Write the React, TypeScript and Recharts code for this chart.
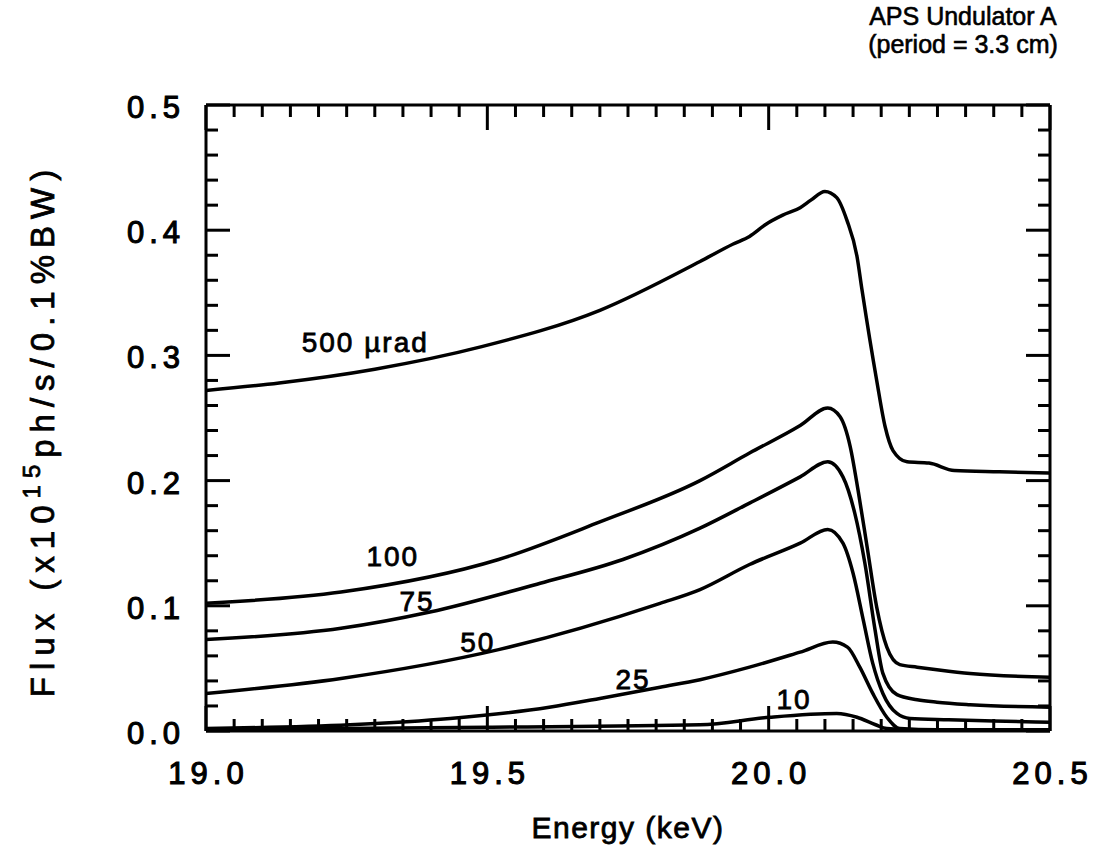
import React from "react";
import { LineChart, Line, XAxis, YAxis, ReferenceDot, ReferenceLine } from "recharts";

const W = 1099;
const H = 853;
const PLOT = { left: 206, top: 105, right: 1050, bottom: 731 };
const FONT = '"Liberation Sans", Arial, Helvetica, sans-serif';

// tick values (minor every 0.05 keV / 0.02 flux units, labels on majors)
const energyTicks = Array.from({ length: 31 }, (_, i) => +(19 + i * 0.05).toFixed(2));
const fluxTicks = Array.from({ length: 26 }, (_, i) => +(i * 0.02).toFixed(2));

// flux curves for each aperture (energy keV, flux x1e15)
const flux500 = [
  { e: 19.0, f: 0.272 }, { e: 19.13, f: 0.278 }, { e: 19.3, f: 0.289 }, { e: 19.49, f: 0.307 },
  { e: 19.7, f: 0.336 }, { e: 19.878, f: 0.375 }, { e: 19.937, f: 0.389 }, { e: 19.966, f: 0.395 },
  { e: 19.996, f: 0.405 }, { e: 20.025, f: 0.412 }, { e: 20.056, f: 0.418 }, { e: 20.075, f: 0.424 },
  { e: 20.1, f: 0.431 }, { e: 20.121, f: 0.426 }, { e: 20.139, f: 0.408 }, { e: 20.157, f: 0.379 },
  { e: 20.166, f: 0.352 }, { e: 20.192, f: 0.28 }, { e: 20.207, f: 0.243 }, { e: 20.221, f: 0.224 },
  { e: 20.246, f: 0.215 }, { e: 20.285, f: 0.214 }, { e: 20.33, f: 0.208 }, { e: 20.41, f: 0.207 },
  { e: 20.5, f: 0.206 },
];
const flux100 = [
  { e: 19.0, f: 0.102 }, { e: 19.24, f: 0.111 }, { e: 19.52, f: 0.137 }, { e: 19.7, f: 0.167 },
  { e: 19.878, f: 0.2 }, { e: 19.966, f: 0.222 }, { e: 20.056, f: 0.244 }, { e: 20.105, f: 0.258 },
  { e: 20.127, f: 0.251 }, { e: 20.145, f: 0.227 }, { e: 20.159, f: 0.192 }, { e: 20.175, f: 0.147 },
  { e: 20.192, f: 0.099 }, { e: 20.21, f: 0.067 }, { e: 20.233, f: 0.053 }, { e: 20.264, f: 0.051 },
  { e: 20.299, f: 0.049 }, { e: 20.358, f: 0.046 }, { e: 20.5, f: 0.043 },
];
const flux75 = [
  { e: 19.0, f: 0.073 }, { e: 19.24, f: 0.082 }, { e: 19.398, f: 0.095 }, { e: 19.594, f: 0.118 },
  { e: 19.741, f: 0.137 }, { e: 19.878, f: 0.162 }, { e: 19.966, f: 0.182 }, { e: 20.056, f: 0.203 },
  { e: 20.105, f: 0.215 }, { e: 20.132, f: 0.203 }, { e: 20.153, f: 0.174 }, { e: 20.171, f: 0.134 },
  { e: 20.189, f: 0.081 }, { e: 20.203, f: 0.046 }, { e: 20.228, f: 0.029 }, { e: 20.264, f: 0.025 },
  { e: 20.299, f: 0.023 }, { e: 20.358, f: 0.021 }, { e: 20.5, f: 0.019 },
];
const flux50 = [
  { e: 19.0, f: 0.03 }, { e: 19.24, f: 0.042 }, { e: 19.52, f: 0.065 }, { e: 19.807, f: 0.102 },
  { e: 19.878, f: 0.113 }, { e: 19.966, f: 0.133 }, { e: 20.056, f: 0.15 }, { e: 20.105, f: 0.161 },
  { e: 20.132, f: 0.15 }, { e: 20.15, f: 0.126 }, { e: 20.168, f: 0.089 }, { e: 20.185, f: 0.054 },
  { e: 20.203, f: 0.03 }, { e: 20.228, f: 0.014 }, { e: 20.251, f: 0.01 }, { e: 20.32, f: 0.009 },
  { e: 20.4, f: 0.008 }, { e: 20.5, f: 0.007 },
];
const flux25 = [
  { e: 19.0, f: 0.002 }, { e: 19.256, f: 0.005 }, { e: 19.434, f: 0.01 }, { e: 19.61, f: 0.019 },
  { e: 19.7, f: 0.026 }, { e: 19.807, f: 0.035 }, { e: 19.878, f: 0.041 }, { e: 19.966, f: 0.051 },
  { e: 20.056, f: 0.063 }, { e: 20.114, f: 0.071 }, { e: 20.14, f: 0.067 }, { e: 20.162, f: 0.051 },
  { e: 20.185, f: 0.03 }, { e: 20.21, f: 0.011 }, { e: 20.233, f: 0.002 }, { e: 20.3, f: 0.001 },
  { e: 20.5, f: 0.001 },
];
const flux10 = [
  { e: 19.0, f: 0.001 }, { e: 19.5, f: 0.003 }, { e: 19.878, f: 0.005 }, { e: 20.002, f: 0.011 },
  { e: 20.121, f: 0.014 }, { e: 20.157, f: 0.011 }, { e: 20.19, f: 0.005 }, { e: 20.21, f: 0.002 },
  { e: 20.3, f: 0.0 }, { e: 20.5, f: 0.0 },
];

const series = [
  { name: "500", data: flux500 },
  { name: "100", data: flux100 },
  { name: "75", data: flux75 },
  { name: "50", data: flux50 },
  { name: "25", data: flux25 },
  { name: "10", data: flux10 },
];

// curve labels placed at (energy, flux)
const curveLabels = [
  { text: "500  \u00b5rad", e: 19.283, f: 0.311 },
  { text: "100", e: 19.332, f: 0.140 },
  { text: "75", e: 19.375, f: 0.104 },
  { text: "50", e: 19.483, f: 0.071 },
  { text: "25", e: 19.759, f: 0.0415 },
  { text: "10", e: 20.045, f: 0.0256 },
];

const isMajorX = (v: number) => Math.abs(v * 2 - Math.round(v * 2)) < 1e-6;
const isMajorY = (v: number) => Math.abs(v * 10 - Math.round(v * 10)) < 1e-6;

const TICK_LS = 5;
const INK = "#000";

// bottom axis tick: inward tick at bottom and top, label on majors
function EnergyTick(props: any) {
  const { x, payload } = props;
  const major = isMajorX(payload.value);
  const len = major ? 25 : 12;
  return (
    <g>
      <line x1={x} x2={x} y1={PLOT.bottom} y2={PLOT.bottom - len} stroke={INK} strokeWidth={3} />
      <line x1={x} x2={x} y1={PLOT.top} y2={PLOT.top + len} stroke={INK} strokeWidth={3} />
      {major && (
        <text x={x + TICK_LS / 2} y={PLOT.bottom + 53} textAnchor="middle" fontFamily={FONT} fontSize={31}
          letterSpacing={TICK_LS} fill={INK} stroke={INK} strokeWidth={1.1}>
          {payload.value.toFixed(1)}
        </text>
      )}
    </g>
  );
}

// left axis tick: inward tick at left and right, label on majors
function FluxTick(props: any) {
  const { y, payload } = props;
  const major = isMajorY(payload.value);
  const len = major ? 24 : 12;
  return (
    <g>
      <line x1={PLOT.left} x2={PLOT.left + len} y1={y} y2={y} stroke={INK} strokeWidth={3} />
      <line x1={PLOT.right} x2={PLOT.right - len} y1={y} y2={y} stroke={INK} strokeWidth={3} />
      {major && (
        <text x={185} y={y + 13} textAnchor="end" fontFamily={FONT} fontSize={31} letterSpacing={TICK_LS}
          fill={INK} stroke={INK} strokeWidth={1.1}>
          {payload.value.toFixed(1)}
        </text>
      )}
    </g>
  );
}

function YTitle() {
  const cx = 42;
  const cy = 430;
  return (
    <text transform={`rotate(-90, ${cx}, ${cy})`} x={cx} y={cy + 12} textAnchor="middle" fontFamily={FONT}
      fontSize={33} letterSpacing={7} fill={INK} stroke={INK} strokeWidth={0.8}>
      <tspan>Flux (x10</tspan>
      <tspan fontSize={24} dy={-14}>15</tspan>
      <tspan dy={14}>ph/s/0.1%BW)</tspan>
    </text>
  );
}

export default function App() {
  return (
    <div style={{ position: "absolute", left: 0, top: 0, width: W, height: H, background: "#fff" }}>
      <LineChart width={W} height={H} margin={{ top: PLOT.top, right: W - PLOT.right, bottom: 0, left: 0 }}>
        <XAxis dataKey="e" type="number" domain={[19, 20.5]} ticks={energyTicks} interval={0} allowDataOverflow
          height={H - PLOT.bottom} tickLine={false} tick={<EnergyTick />} axisLine={{ stroke: INK, strokeWidth: 3 }}
          label={{ value: "Energy  (keV)", position: "insideBottom", offset: 15, fontFamily: FONT, fontSize: 30,
            letterSpacing: 1.5, fill: INK, stroke: INK, strokeWidth: 0.8 }} />
        <YAxis type="number" domain={[0, 0.5]} ticks={fluxTicks} interval={0} allowDataOverflow width={PLOT.left}
          tickLine={false} tick={<FluxTick />} axisLine={{ stroke: INK, strokeWidth: 3 }}
          label={{ content: () => <YTitle /> }} />
        <ReferenceLine y={0.5} stroke={INK} strokeWidth={3} />
        <ReferenceLine x={20.5} stroke={INK} strokeWidth={3} />
        {series.map((s) => (
          <Line key={s.name} data={s.data} dataKey="f" type="monotone" stroke={INK} strokeWidth={3.5}
            dot={false} activeDot={false} isAnimationActive={false} />
        ))}
        {curveLabels.map((l) => (
          <ReferenceDot key={l.text} x={l.e} y={l.f} r={1} fill="none" stroke="none"
            label={{ value: l.text, position: "center", fontFamily: FONT, fontSize: 28, letterSpacing: 2,
              fill: INK, stroke: INK, strokeWidth: 0.8 }} />
        ))}
      </LineChart>
      <div style={{ position: "absolute", left: 830, top: 2, width: 266, textAlign: "center", fontFamily: FONT,
        fontSize: 25, lineHeight: "28px", color: INK, WebkitTextStroke: "0.6px #000" }}>
        <div>APS Undulator A</div>
        <div>(period = 3.3 cm)</div>
      </div>
    </div>
  );
}
